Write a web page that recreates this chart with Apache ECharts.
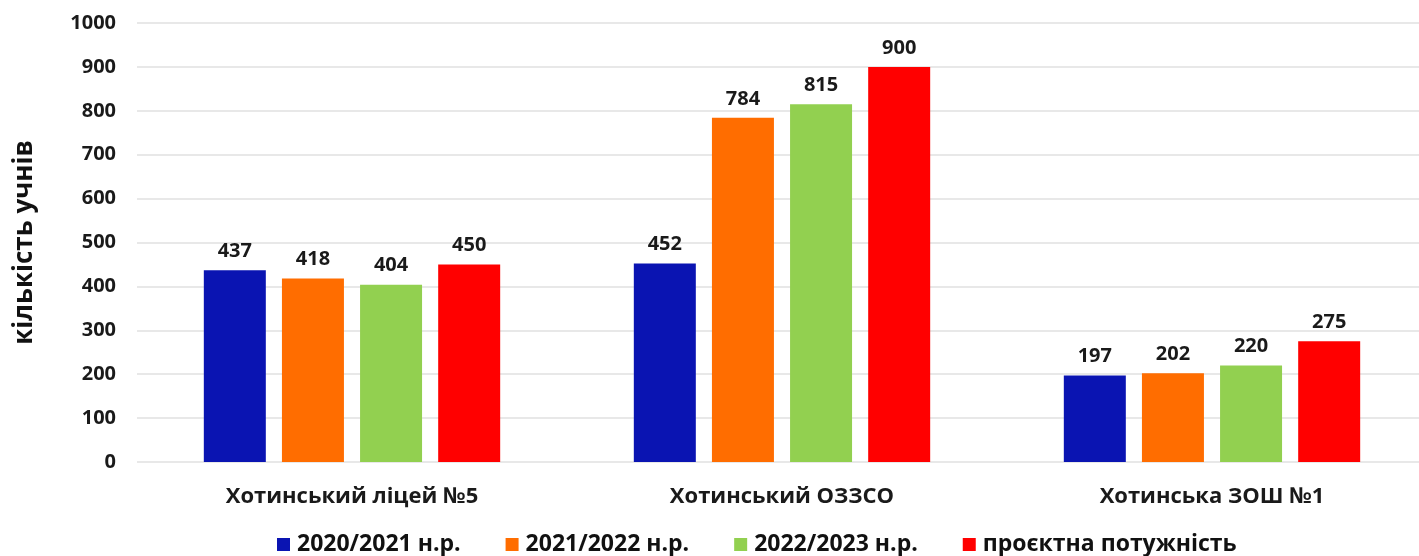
<!DOCTYPE html>
<html>
<head>
<meta charset="utf-8">
<script src="https://cdn.jsdelivr.net/npm/echarts@6/dist/echarts.min.js"></script>
<style>html,body{margin:0;padding:0;background:#fff;overflow:hidden}#c{width:1427px;height:556px}</style>
</head>
<body>
<div id="c"></div>
<script>
var categories = ['Хотинський ліцей №5', 'Хотинський ОЗЗСО', 'Хотинська ЗОШ №1'];
var seriesNames = ['2020/2021 н.р.', '2021/2022 н.р.', '2022/2023 н.р.', 'проєктна потужність'];
var values2020 = [437, 452, 197];
var values2021 = [418, 784, 202];
var values2022 = [404, 815, 220];
var valuesCapacity = [450, 900, 275];
var colors = ['#0a14b2', '#ff6d00', '#92d050', '#ff0000'];
var yAxisName = 'кількість учнів';

var font = 'Open Sans';
var allValues = [values2020, values2021, values2022, valuesCapacity];
var chart = echarts.init(document.getElementById('c'));
chart.setOption({
  animation: false,
  color: colors,
  textStyle: { fontFamily: font },
  grid: { left: 137, right: 0, top: 23, height: 439, containLabel: false },
  legend: {
    top: 528, left: 272, itemWidth: 13, itemHeight: 13, itemGap: 45,
    icon: 'rect',
    textStyle: { fontSize: 23, fontWeight: 'bold', color: '#111', fontFamily: font, padding: [0, 0, 0, 2] },
    data: seriesNames
  },
  xAxis: {
    type: 'category', data: categories,
    axisLine: { show: false }, axisTick: { show: false },
    axisLabel: { fontSize: 22, fontWeight: 'bold', color: '#1a1a1a', margin: 24, fontFamily: font }
  },
  yAxis: {
    type: 'value', min: 0, max: 1000, interval: 100,
    name: yAxisName, nameLocation: 'middle', nameGap: 99, nameRotate: 90,
    nameTextStyle: { fontSize: 26, fontWeight: 'bold', color: '#111', fontFamily: font },
    axisLine: { show: false }, axisTick: { show: false },
    axisLabel: { fontSize: 20, fontWeight: 'bold', color: '#1a1a1a', margin: 21, fontFamily: font,
      formatter: function (v) { return String(v); } },
    splitLine: { lineStyle: { color: '#e0e0e0', width: 1.5 } }
  },
  series: allValues.map(function (v, i) {
    return {
      name: seriesNames[i], type: 'bar', data: v,
      barWidth: 62, barGap: '26%',
      label: { show: true, position: 'top', distance: 9, fontSize: 20, fontWeight: 'bold', color: '#1a1a1a', fontFamily: font }
    };
  })
});
</script>
</body>
</html>
